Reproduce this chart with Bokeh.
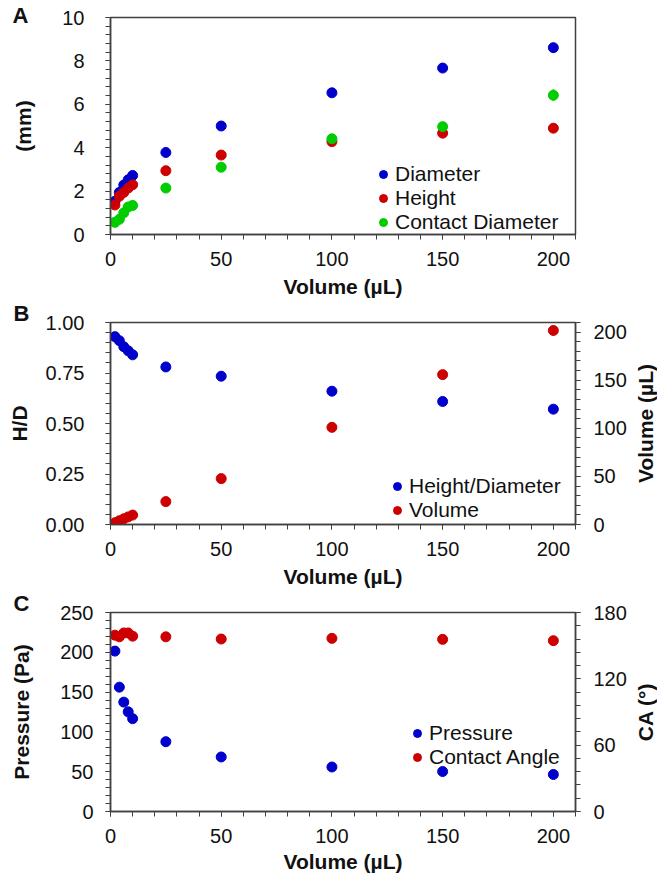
import math
from bokeh.plotting import figure
from bokeh.layouts import gridplot
from bokeh.models import (LinearAxis, Range1d, SingleIntervalTicker, FixedTicker, Legend,
                          LegendItem, ColumnDataSource, NumeralTickFormatter)
from bokeh.embed import file_html
from bokeh.resources import INLINE

# ---------------- data ----------------
volume = [2, 4, 6, 8, 10, 25, 50, 100, 150, 200]

# Panel A (mm)
diameter = [1.53, 1.94, 2.28, 2.52, 2.72, 3.78, 5.00, 6.53, 7.67, 8.61]
height = [1.36, 1.76, 1.94, 2.14, 2.29, 2.94, 3.66, 4.28, 4.67, 4.90]
contact_diameter = [0.56, 0.70, 1.00, 1.27, 1.34, 2.14, 3.10, 4.41, 4.97, 6.42]
contact_diameter_err = [0.05, 0.05, 0.06, 0.08, 0.08, 0.19, 0.08, 0.10, 0.10, 0.26]

# Panel B
h_over_d = [0.93, 0.91, 0.88, 0.86, 0.84, 0.78, 0.734, 0.66, 0.609, 0.571]
measured_volume = [1.9, 3.9, 5.9, 7.9, 9.8, 23.8, 47.7, 101.0, 155.8, 201.7]

# Panel C
pressure = [201.5, 156.2, 137.4, 125.2, 116.6, 87.7, 68.5, 55.9, 50.2, 46.5]
contact_angle = [159.5, 158.0, 161.5, 161.5, 158.6, 158.0, 156.0, 156.6, 155.7, 154.5]
contact_angle_err = [1.0, 1.0, 1.5, 1.5, 4.0, 1.0, 1.0, 1.0, 1.0, 1.0]

# ---------------- style ----------------
FONT = "Liberation Sans"
BLUE = "#0000CC"
RED = "#CC0000"
GREEN = "#00CC00"
AXC = "#404040"
TXT = "#111111"
W_MAIN = 629
W_STRIP = 28
LEFT = 110
RIGHT = 52


def style_axis(ax, interval, label=None, standoff=10, label_standoff=10):
    ax.ticker = SingleIntervalTicker(interval=interval, num_minor_ticks=5)
    ax.axis_line_color = AXC
    ax.axis_line_width = 1.5
    ax.major_tick_line_color = AXC
    ax.minor_tick_line_color = AXC
    ax.major_tick_line_width = 1
    ax.minor_tick_line_width = 1
    ax.major_tick_out = 5
    ax.major_tick_in = 0
    ax.minor_tick_out = 5
    ax.minor_tick_in = 0
    ax.major_label_text_font = FONT
    ax.major_label_text_font_size = "20px"
    ax.major_label_text_color = TXT
    ax.major_label_standoff = standoff
    if label is not None:
        ax.axis_label = label
        ax.axis_label_text_font = FONT
        ax.axis_label_text_font_size = "21px"
        ax.axis_label_text_font_style = "bold"
        ax.axis_label_text_color = TXT
        ax.axis_label_standoff = label_standoff


def base_fig(h, top, bottom, y_end, letter, letter_offset, letter_standoff):
    p = figure(width=W_MAIN, height=h, output_backend="svg", toolbar_location=None,
               x_range=Range1d(0, 210), y_range=Range1d(0, y_end),
               min_border_top=top, min_border_bottom=bottom,
               min_border_left=LEFT, min_border_right=RIGHT)
    p.xgrid.visible = False
    p.ygrid.visible = False
    p.outline_line_color = AXC
    p.outline_line_width = 1.5
    p.background_fill_color = "white"
    p.border_fill_color = "white"
    # panel letter
    p.title.text = letter
    p.title.align = "left"
    p.title.offset = letter_offset
    p.title.vertical_align = "bottom"
    p.title.standoff = letter_standoff
    p.title.text_font = FONT
    p.title.text_font_size = "22px"
    p.title.text_font_style = "bold"
    p.title.text_color = TXT
    return p


def label_strip(h, top, bottom, label):
    # narrow strip carrying the right-hand axis title (reads bottom-to-top)
    s = figure(width=W_STRIP, height=h, output_backend="svg", toolbar_location=None,
               x_axis_location=None, y_axis_location="left",
               x_range=Range1d(0, 1), y_range=Range1d(0, 1),
               min_border_top=top, min_border_bottom=bottom,
               min_border_left=26, min_border_right=0)
    s.xgrid.visible = False
    s.ygrid.visible = False
    s.outline_line_color = None
    s.background_fill_color = "white"
    s.border_fill_color = "white"
    ax = s.yaxis[0]
    ax.ticker = FixedTicker(ticks=[])
    ax.axis_line_color = None
    ax.major_tick_out = 0
    ax.major_tick_in = 0
    ax.minor_tick_out = 0
    ax.minor_tick_in = 0
    ax.major_label_text_font_size = "0px"
    ax.major_label_standoff = 0
    ax.axis_label = label
    ax.axis_label_text_font = FONT
    ax.axis_label_text_font_size = "21px"
    ax.axis_label_text_font_style = "bold"
    ax.axis_label_text_color = TXT
    ax.axis_label_standoff = -1
    return s


def add_legend(p, items, loc):
    lg = Legend(items=items, location=loc, border_line_color=None,
                background_fill_alpha=0, padding=0, margin=0, spacing=0,
                glyph_width=20, glyph_height=22, label_height=22, label_standoff=2,
                label_text_font=FONT, label_text_font_size="21px",
                label_text_color=TXT)
    p.add_layout(lg)


# ---------------- Panel A ----------------
pa = base_fig(300, 17, 65, 10, "A", -98, -20)
style_axis(pa.xaxis[0], 50, "Volume (µL)", standoff=12, label_standoff=6)
style_axis(pa.yaxis[0], 2, "(mm)", standoff=21, label_standoff=24)

srcA = ColumnDataSource(dict(
    x=volume, d=diameter, h=height, c=contact_diameter,
    lo=[c - e for c, e in zip(contact_diameter, contact_diameter_err)],
    hi=[c + e for c, e in zip(contact_diameter, contact_diameter_err)]))
pa.segment(x0="x", y0="lo", x1="x", y1="hi", source=srcA, line_color=GREEN, line_width=2)
rd = pa.scatter("x", "d", source=srcA, size=10, color=BLUE)
rh = pa.scatter("x", "h", source=srcA, size=10, color=RED)
rc = pa.scatter("x", "c", source=srcA, size=10, color=GREEN)
add_legend(pa, [LegendItem(label="Diameter", renderers=[rd]),
                LegendItem(label="Height", renderers=[rh]),
                LegendItem(label="Contact Diameter", renderers=[rc])], (263, 0))

# ---------------- Panel B ----------------
pb = base_fig(290, 22, 65, 1.0, "B", -97, -6)
style_axis(pb.xaxis[0], 50, "Volume (µL)", standoff=12, label_standoff=6)
style_axis(pb.yaxis[0], 0.25, "H/D", standoff=21, label_standoff=12)
pb.yaxis[0].formatter = NumeralTickFormatter(format="0.00")
pb.extra_y_ranges = {"vol": Range1d(0, 210)}
axb = LinearAxis(y_range_name="vol")
style_axis(axb, 50, None, standoff=13)
pb.add_layout(axb, "right")

srcB = ColumnDataSource(dict(x=volume, hd=h_over_d, v=measured_volume))
rhd = pb.scatter("x", "hd", source=srcB, size=10, color=BLUE)
rv = pb.scatter("x", "v", source=srcB, size=10, color=RED, y_range_name="vol")
add_legend(pb, [LegendItem(label="Height/Diameter", renderers=[rhd]),
                LegendItem(label="Volume", renderers=[rv])], (277, 2))
sb = label_strip(290, 22, 65, "Volume (µL)")

# ---------------- Panel C ----------------
pc = base_fig(285, 22, 59, 250, "C", -97, -6)
style_axis(pc.xaxis[0], 50, "Volume (µL)", standoff=12, label_standoff=4)
style_axis(pc.yaxis[0], 50, "Pressure (Pa)", standoff=12, label_standoff=24)
pc.extra_y_ranges = {"ca": Range1d(0, 180)}
axc = LinearAxis(y_range_name="ca")
style_axis(axc, 60, None, standoff=13)
pc.add_layout(axc, "right")

srcC = ColumnDataSource(dict(
    x=volume, p=pressure, ca=contact_angle,
    lo=[c - e for c, e in zip(contact_angle, contact_angle_err)],
    hi=[c + e for c, e in zip(contact_angle, contact_angle_err)]))
pc.segment(x0="x", y0="lo", x1="x", y1="hi", source=srcC, line_color=RED, line_width=2,
           y_range_name="ca")
rp = pc.scatter("x", "p", source=srcC, size=10, color=BLUE)
rca = pc.scatter("x", "ca", source=srcC, size=10, color=RED, y_range_name="ca")
add_legend(pc, [LegendItem(label="Pressure", renderers=[rp]),
                LegendItem(label="Contact Angle", renderers=[rca])], (297, 42))
sc = label_strip(285, 22, 59, "CA (°)")

layout = gridplot([[pa, None], [pb, sb], [pc, sc]], toolbar_location=None)
open("out.html", "w").write(file_html(layout, INLINE))
